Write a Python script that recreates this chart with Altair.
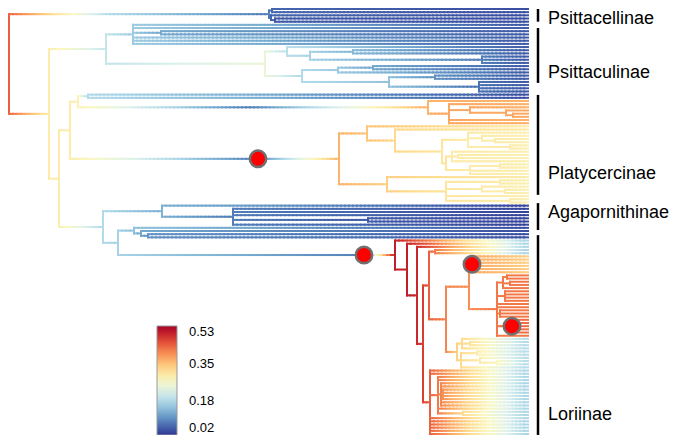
import math
import altair as alt
import pandas as pd

# ---------------- tree data (depths, values = trait) ----
TIP_X = 528
ROOT_X = 9


def node(x, v, *kids, mark=False):
    return {"x": x, "v": v, "kids": list(kids), "mark": mark}


def tip(v):
    return {"x": TIP_X, "v": v, "kids": [], "mark": False}


def tips(n, v):
    return [tip(v) for _ in range(n)]


P = 0.29  # platycercine tip value
L = 0.17  # lorine tip value
R = 0.42  # red-orange lorine clade value

psittacellinae = node(269, .08, node(272, .06, tip(.04), tip(.04)),
                      node(271, .06, tip(.04), node(275, .05, tip(.04), tip(.04))))

psittaculinae_a = node(133, .16, tip(.05), tip(.05), node(161, .12, tip(.05), tip(.05)),
                       tip(.05), tip(.05), tip(.05))
psittaculinae_b = node(265, .25,
                       node(287, .19, tip(.05),
                            node(310, .17, node(353, .14, tip(.05), tip(.05)),
                                 node(482, .08, *tips(3, .05)))),
                       node(302, .18,
                            node(338, .16, node(373, .12, tip(.05), tip(.05)), tip(.05)),
                            node(389, .15, node(435, .10, tip(.05), tip(.05)),
                                 node(479, .07, *tips(4, .05)))))

basal_pair = node(88, .18, tip(.04), tip(.04))
platy_a = node(428, .37, tip(.37),
               node(449, .38, tip(.37),
                    node(470, .38, tip(.37),
                         node(506, .38, tip(.38), node(513, .38, tip(.38), tip(.38)))),
                    tip(.37), tip(.37)))

platy_b = node(339, .37,
               node(367, .35, tip(.30),
                    node(395, .33, tip(.30),
                         node(442, .31,
                              node(468, .30, tip(P), node(482, .30, tip(P), node(495, .30, tip(P), tip(P))),
                                   node(510, .30, tip(P), tip(P))),
                              node(446, .31,
                                   node(452, .30, tip(P), node(458, .30, tip(P), tip(P)), tip(P)),
                                   node(470, .30, node(500, .30, tip(P), tip(P)), tip(P), tip(P)))))),
               node(387, .34, tip(.30),
                    node(446, .31, node(500, .30, tip(P), tip(P)),
                         node(482, .30, tip(P), node(505, .30, tip(P), tip(P))),
                         tip(P), node(510, .30, tip(P), tip(P)))))

agapornithinae = node(162, .13, tip(.03),
                      node(233, .08, *tips(3, .03), node(368, .05, tip(.03), tip(.03)), tip(.03)))
basal_lori = node(134, .15, tip(.04), node(141, .12, tip(.04), node(148, .10, tip(.04), tip(.04))))

loriinae = node(395, .50, tip(L),
  node(407, .50, tip(L),
    node(417, .49, tip(L),
      node(423, .47,
        node(429, .44,
          node(435, .42, tip(L), tip(L)),
          node(446, .41,
            node(469, .40,
              node(472, .38, *tips(6, .34), mark=True),
              node(497, R,
                node(503, R, node(507, R, tip(R), tip(R)), node(510, R, tip(R), tip(R)), tip(R)),
                node(505, R, *tips(4, R)),
                tip(R), tip(R),
                node(500, R, *tips(3, R)),
                node(512, .43, *tips(5, .43), mark=True),
                tip(R))),
            node(457, .34,
              node(462, .33, tip(.18), node(470, .32, tip(.18), tip(.18)), tip(.18)),
              node(461, .33, node(477, .30, tip(.18), tip(.18)),
                   node(480, .30, tip(.18), node(497, .28, tip(.18), tip(.18))), tip(.18))))),
        node(430, .44, tip(L), tip(L),
          node(438, .42, tip(L), tip(L),
            node(441, .41, tip(L), tip(L), node(443, .40, *tips(4, L)), tip(L), tip(L)),
            tip(L), node(463, .33, tip(L), tip(L))),
          *tips(6, L))))))

root = node(ROOT_X, .44,
            node(110, .18, psittacellinae),
            node(49, .30,
                 node(106, .20, psittaculinae_a, psittaculinae_b),
                 node(59, .30,
                      node(70, .30,
                           node(78, .29, basal_pair, node(250, .08, platy_a)),
                           node(258, .08, platy_b, mark=True)),
                      node(103, .18,
                           agapornithinae,
                           node(118, .17, basal_lori, node(364, .08, loriinae, mark=True))))))

# clade annotations (positions in tip-index units)
clade_names = ["Psittacellinae", "Psittaculinae", "Platycercinae", "Agapornithinae", "Loriinae"]
clade_start = [0.0, 6.0, 27.1, 61.2, 71.3]
clade_end = [4.0, 23.3, 58.6, 69.7, 134.3]
clade_label = [3.3, 20.2, 52.0, 64.3, 128.0]

legend_values = [0.02, 0.18, 0.35, 0.53]

# ---------------- layout ----------------
counter = [0]


def layout(n):
    if not n["kids"]:
        n["y"] = float(counter[0])
        counter[0] += 1
    else:
        for k in n["kids"]:
            layout(k)
        n["y"] = (n["kids"][0]["y"] + n["kids"][-1]["y"]) / 2


layout(root)
NT = counter[0]

segs, marks = [], []


def walk(n, parent=None):
    if parent is not None:
        px, pv = parent["x"], parent["v"]
        length = n["x"] - px
        dv = n["v"] - pv
        if length > 0:
            k = 1 if abs(dv) < 1e-3 else max(1, math.ceil(length / 4))
            for i in range(k):
                segs.append({"x": px + length * i / k, "x2": px + length * (i + 1) / k,
                             "y": n["y"], "y2": n["y"], "v": pv + dv * (i + 0.5) / k})
    if n["kids"]:
        y0, y1 = n["kids"][0]["y"], n["kids"][-1]["y"]
        if y1 > y0:
            segs.append({"x": n["x"], "x2": n["x"], "y": y0, "y2": y1, "v": n["v"]})
    if n["mark"]:
        marks.append({"x": n["x"], "y": n["y"]})
    for k in n["kids"]:
        walk(k, n)


walk(root)

seg_df = pd.DataFrame(segs)
mark_df = pd.DataFrame(marks)
clade_df = pd.DataFrame({"name": clade_names, "start": clade_start, "end": clade_end, "lab": clade_label})

W, H = 669, 427
step = 425.0 / (NT - 1)
lo = -1.0 / step
hi = lo + H / step

xs = alt.Scale(domain=[8, 8 + W], nice=False, zero=False)
ys = alt.Scale(domain=[lo, hi], nice=False, zero=False, reverse=True)

branches = alt.Chart(seg_df).mark_rule(strokeWidth=2, strokeCap="square").encode(
    x=alt.X("x:Q", scale=xs, axis=None),
    x2="x2:Q",
    y=alt.Y("y:Q", scale=ys, axis=None),
    y2="y2:Q",
    color=alt.Color("v:Q",
                    scale=alt.Scale(scheme="redyellowblue", reverse=True, domain=[0.02, 0.53]),
                    legend=alt.Legend(orient="none", legendX=149, legendY=318, direction="vertical",
                                      gradientLength=109, gradientThickness=20,
                                      values=legend_values, format=".2f",
                                      labelFontSize=13, labelFont="Liberation Sans",
                                      labelColor="black", labelOffset=12, labelBaseline="middle",
                                      gradientStrokeColor="#999", gradientStrokeWidth=1,
                                      title=None)),
)

circles = alt.Chart(mark_df).mark_circle(size=270, color="#ff0000", stroke="#707070",
                                         strokeWidth=2.5, opacity=1).encode(
    x=alt.X("x:Q", scale=xs, axis=None),
    y=alt.Y("y:Q", scale=ys, axis=None),
)

bars = alt.Chart(clade_df).mark_rule(strokeWidth=2.5, color="black").encode(
    x=alt.datum(538, scale=xs),
    y=alt.Y("start:Q", scale=ys, axis=None),
    y2="end:Q",
)

labels = alt.Chart(clade_df).mark_text(align="left", baseline="middle", fontSize=18,
                                       font="Liberation Sans", color="black").encode(
    x=alt.datum(548, scale=xs),
    y=alt.Y("lab:Q", scale=ys, axis=None),
    text="name:N",
)

chart = alt.layer(branches, circles, bars, labels).properties(
    width=W, height=H, padding=0, autosize="none", background="white"
).configure_view(stroke=None)

chart.save("out.html", embed_options={"renderer": "svg", "actions": False})
